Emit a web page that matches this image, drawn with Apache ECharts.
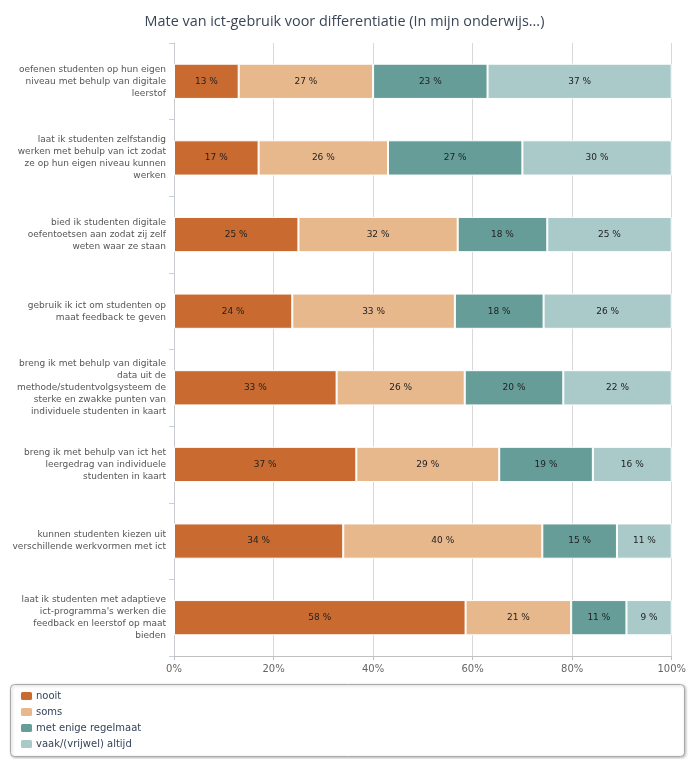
<!DOCTYPE html>
<html><head><meta charset="utf-8">
<script src="https://cdn.jsdelivr.net/npm/echarts@6/dist/echarts.min.js"></script>
<style>html,body{margin:0;padding:0;background:#fff}#c{width:689px;height:759px}</style>
</head><body><div id="c"></div>
<script>
const categories = [
  "oefenen studenten op hun eigen\nniveau met behulp van digitale\nleerstof",
  "laat ik studenten zelfstandig\nwerken met behulp van ict zodat\nze op hun eigen niveau kunnen\nwerken",
  "bied ik studenten digitale\noefentoetsen aan zodat zij zelf\nweten waar ze staan",
  "gebruik ik ict om studenten op\nmaat feedback te geven",
  "breng ik met behulp van digitale\ndata uit de\nmethode/studentvolgsysteem de\nsterke en zwakke punten van\nindividuele studenten in kaart",
  "breng ik met behulp van ict het\nleergedrag van individuele\nstudenten in kaart",
  "kunnen studenten kiezen uit\nverschillende werkvormen met ict",
  "laat ik studenten met adaptieve\nict-programma's werken die\nfeedback en leerstof op maat\nbieden"
];
const seriesNames = ["nooit", "soms", "met enige regelmaat", "vaak/(vrijwel) altijd"];
const nooit     = [13, 17, 25, 24, 33, 37, 34, 58];
const soms      = [27, 26, 32, 33, 26, 29, 40, 21];
const regelmaat = [23, 27, 18, 18, 20, 19, 15, 11];
const vaak      = [37, 30, 25, 26, 22, 16, 11, 9];
const xTicks = ["0%", "20%", "40%", "60%", "80%", "100%"];
const colors = ["#c96b30", "#e8b88d", "#669d98", "#aac9c9"];

const raw = [nooit, soms, regelmaat, vaak];
const totals = categories.map((_, i) => raw.reduce((s, a) => s + a[i], 0));

const chart = echarts.init(document.getElementById('c'), null, {renderer: 'canvas'});
chart.setOption({
  animation: false,
  title: {
    text: 'Mate van ict-gebruik voor differentiatie (In mijn onderwijs...)',
    left: 'center', top: 10,
    textStyle: {fontFamily: 'Open Sans', fontSize: 14.4, fontWeight: 'normal', color: '#3a4656'}
  },
  grid: {left: 174, right: 13, top: 43, bottom: 103},
  xAxis: {
    type: 'value', min: 0, max: 100, interval: 20,
    axisLabel: {formatter: v => xTicks[v / 20], color: '#666', fontSize: 10, fontFamily: 'DejaVu Sans', margin: 8},
    axisLine: {show: true, lineStyle: {color: '#c0c0c0'}},
    axisTick: {show: true, length: 4, lineStyle: {color: '#c0c0c0'}},
    splitLine: {lineStyle: {color: '#d8d8d8'}}
  },
  yAxis: {
    type: 'category', inverse: true, data: categories,
    axisLine: {show: true, lineStyle: {color: '#c8ccd0'}},
    axisTick: {show: true, length: 5, lineStyle: {color: '#c0d0e0'}},
    axisLabel: {color: '#555', fontSize: 9, fontFamily: 'DejaVu Sans', lineHeight: 12, align: 'right', margin: 8}
  },
  legend: {
    orient: 'vertical', left: 19, top: 690, itemGap: 4, padding: 0,
    itemWidth: 13, itemHeight: 10, height: 70,
    data: seriesNames,
    textStyle: {color: '#34435a', fontSize: 10, lineHeight: 10, fontFamily: 'DejaVu Sans', padding: [0, 0, 0, -2]}
  },
  graphic: [{
    type: 'rect', left: 10, top: 684, silent: true, z: -1,
    shape: {width: 674, height: 72, r: 4},
    style: {fill: '#fff', stroke: '#a8a8a8', lineWidth: 1, shadowBlur: 3, shadowColor: 'rgba(0,0,0,0.25)', shadowOffsetX: 1, shadowOffsetY: 1}
  }],
  series: raw.map((arr, k) => ({
    name: seriesNames[k], type: 'bar', stack: 'total', barWidth: '46%',
    itemStyle: {color: colors[k], borderColor: '#fff', borderWidth: 1},
    label: {show: true, position: 'inside', color: '#222', fontSize: 9, fontFamily: 'DejaVu Sans',
      formatter: p => arr[p.dataIndex] + ' %'},
    data: arr.map((v, i) => v / totals[i] * 100)
  }))
});
</script></body></html>
